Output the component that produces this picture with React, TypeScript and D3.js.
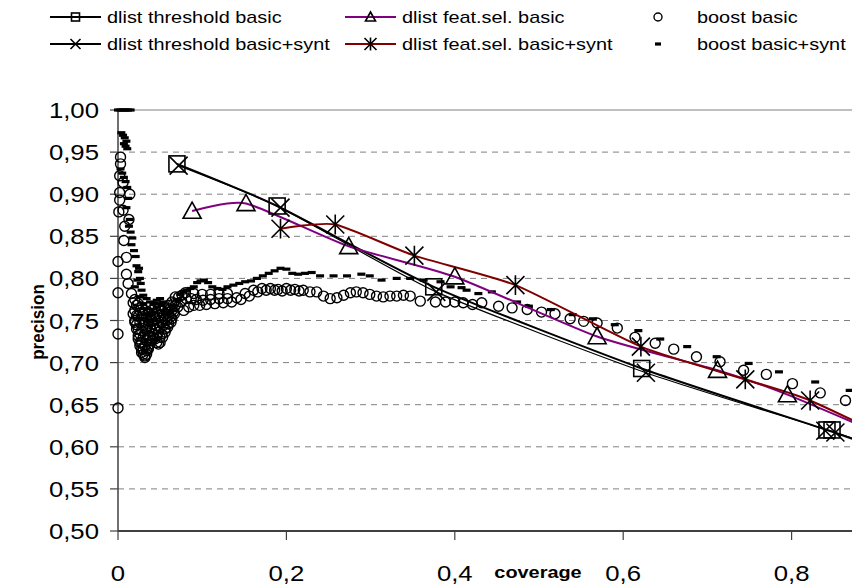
import * as d3 from "d3";
import React from "react";

type Pt = [number, number];

// dlist series (coverage, precision)
const thrBasic: Pt[] = [[0.070, 0.936], [0.189, 0.886], [0.375, 0.790], [0.622, 0.693], [0.842, 0.620], [0.95, 0.582]];
const thrSynt: Pt[] = [[0.072, 0.934], [0.193, 0.884], [0.378, 0.784], [0.627, 0.688], [0.852, 0.617], [0.95, 0.583]];
const featBasic: Pt[] = [[0.088, 0.880], [0.152, 0.889], [0.274, 0.838], [0.400, 0.802], [0.569, 0.731], [0.712, 0.691], [0.795, 0.662], [0.95, 0.596]];
const featSynt: Pt[] = [[0.193, 0.859], [0.258, 0.864], [0.352, 0.827], [0.472, 0.792], [0.621, 0.719], [0.745, 0.680], [0.822, 0.655], [0.95, 0.594]];
const thrBasicExtra: Pt[] = [[0.848, 0.620]];
const thrSyntExtra: Pt[] = [[0.840, 0.619]];

// boost basic (circles)
const boostBasic: Pt[] = [
  [0.000, 0.646], [0.000, 0.734], [0.000, 0.783], [0.000, 0.820], [0.001, 0.879], [0.002, 0.893],
  [0.002, 0.902], [0.002, 0.922], [0.003, 0.936], [0.003, 0.944], [0.006, 0.881], [0.006, 0.914],
  [0.007, 0.845], [0.008, 0.862], [0.010, 0.825], [0.010, 0.805], [0.012, 0.794], [0.013, 0.870],
  [0.014, 0.900], [0.016, 0.782], [0.018, 0.771], [0.018, 0.758], [0.020, 0.748], [0.022, 0.740],
  [0.024, 0.732], [0.026, 0.724], [0.028, 0.716], [0.030, 0.710], [0.032, 0.706], [0.034, 0.710],
  [0.036, 0.716], [0.038, 0.722], [0.040, 0.726], [0.042, 0.730], [0.044, 0.728], [0.046, 0.724],
  [0.048, 0.722], [0.050, 0.724], [0.053, 0.730], [0.056, 0.736], [0.059, 0.742], [0.063, 0.748],
  [0.067, 0.758], [0.071, 0.766], [0.075, 0.772], [0.078, 0.762], [0.081, 0.776], [0.084, 0.766],
  [0.087, 0.776], [0.090, 0.768], [0.093, 0.775], [0.097, 0.768], [0.101, 0.774], [0.105, 0.769],
  [0.110, 0.775], [0.115, 0.770], [0.120, 0.776], [0.125, 0.771], [0.130, 0.776], [0.135, 0.772],
  [0.141, 0.777], [0.146, 0.775], [0.151, 0.782], [0.156, 0.779], [0.161, 0.786], [0.166, 0.784],
  [0.171, 0.788], [0.176, 0.786], [0.181, 0.788], [0.186, 0.786], [0.190, 0.787], [0.195, 0.785],
  [0.200, 0.788], [0.205, 0.786], [0.210, 0.787], [0.215, 0.785], [0.220, 0.786], [0.228, 0.784],
  [0.236, 0.784], [0.244, 0.779], [0.252, 0.776], [0.260, 0.777], [0.268, 0.780], [0.276, 0.783],
  [0.283, 0.784], [0.291, 0.783], [0.299, 0.781], [0.307, 0.779], [0.315, 0.778], [0.323, 0.779],
  [0.331, 0.779], [0.339, 0.780], [0.347, 0.779], [0.359, 0.773], [0.377, 0.772], [0.389, 0.772],
  [0.400, 0.772], [0.410, 0.771], [0.421, 0.769], [0.432, 0.771], [0.452, 0.767], [0.468, 0.765],
  [0.486, 0.763], [0.503, 0.760], [0.519, 0.758], [0.537, 0.752], [0.553, 0.749], [0.569, 0.747],
  [0.593, 0.741], [0.614, 0.730], [0.638, 0.723], [0.660, 0.716], [0.687, 0.707], [0.715, 0.701],
  [0.743, 0.691], [0.770, 0.686], [0.801, 0.675], [0.834, 0.664], [0.864, 0.655], [0.895, 0.645],
];

// boost basic: the dense cluster in the dip near coverage 0.02-0.14
const boostBasicDip: Pt[] = [
  [0.020, 0.775], [0.020, 0.762], [0.020, 0.750],
  [0.022, 0.768], [0.022, 0.756], [0.022, 0.745],
  [0.024, 0.770], [0.024, 0.755], [0.024, 0.740], [0.024, 0.728],
  [0.026, 0.762], [0.026, 0.748], [0.026, 0.734], [0.026, 0.720],
  [0.028, 0.766], [0.028, 0.752], [0.028, 0.738], [0.028, 0.724], [0.028, 0.712],
  [0.030, 0.758], [0.030, 0.744], [0.030, 0.730], [0.030, 0.716],
  [0.032, 0.762], [0.032, 0.748], [0.032, 0.734], [0.032, 0.720], [0.032, 0.708],
  [0.034, 0.754], [0.034, 0.740], [0.034, 0.726], [0.034, 0.714],
  [0.036, 0.760], [0.036, 0.746], [0.036, 0.732], [0.036, 0.718],
  [0.038, 0.754], [0.038, 0.742], [0.038, 0.730],
  [0.040, 0.762], [0.040, 0.750], [0.040, 0.738],
  [0.042, 0.758], [0.042, 0.746], [0.042, 0.734],
  [0.044, 0.766], [0.044, 0.752], [0.044, 0.740],
  [0.046, 0.758], [0.046, 0.744], [0.046, 0.732],
  [0.048, 0.764], [0.048, 0.750], [0.048, 0.736],
  [0.050, 0.756], [0.050, 0.742], [0.050, 0.730],
  [0.052, 0.762], [0.052, 0.748], [0.052, 0.734],
  [0.054, 0.756], [0.054, 0.744],
  [0.056, 0.764], [0.056, 0.752], [0.056, 0.740],
  [0.058, 0.760], [0.058, 0.750],
  [0.060, 0.768], [0.060, 0.756], [0.060, 0.746],
  [0.062, 0.764], [0.062, 0.754],
  [0.064, 0.772], [0.064, 0.762], [0.064, 0.752],
  [0.066, 0.770], [0.066, 0.760],
  [0.068, 0.778], [0.068, 0.768],
  [0.072, 0.778], [0.076, 0.780],
  [0.080, 0.783], [0.090, 0.782], [0.100, 0.781], [0.110, 0.781], [0.120, 0.782], [0.130, 0.782],
];

// boost basic+synt (dashes)
const boostSynt: Pt[] = [
  [0.000, 1.000], [0.003, 1.000], [0.006, 1.000], [0.009, 1.000], [0.012, 1.000], [0.015, 1.000],
  [0.004, 0.973], [0.006, 0.970], [0.008, 0.967], [0.010, 0.963], [0.007, 0.960], [0.009, 0.957],
  [0.011, 0.954], [0.003, 0.930], [0.005, 0.925], [0.007, 0.920], [0.009, 0.915], [0.011, 0.908],
  [0.012, 0.895], [0.010, 0.884], [0.014, 0.870], [0.013, 0.862], [0.015, 0.855], [0.017, 0.848],
  [0.016, 0.840], [0.019, 0.833], [0.021, 0.826], [0.022, 0.815], [0.024, 0.808], [0.026, 0.800],
  [0.027, 0.794], [0.028, 0.786], [0.026, 0.778], [0.030, 0.770], [0.032, 0.764], [0.034, 0.757],
  [0.036, 0.750], [0.038, 0.745], [0.041, 0.750], [0.043, 0.760], [0.046, 0.766], [0.049, 0.770],
  [0.052, 0.768], [0.055, 0.762], [0.058, 0.758], [0.062, 0.762], [0.066, 0.768], [0.070, 0.775],
  [0.074, 0.781], [0.078, 0.784], [0.082, 0.786], [0.086, 0.788], [0.090, 0.790], [0.094, 0.795],
  [0.098, 0.797], [0.102, 0.798], [0.107, 0.795], [0.112, 0.790], [0.118, 0.788], [0.124, 0.787],
  [0.130, 0.790], [0.137, 0.792], [0.144, 0.794], [0.151, 0.796], [0.158, 0.797], [0.165, 0.800],
  [0.172, 0.803], [0.179, 0.806], [0.186, 0.809], [0.193, 0.812], [0.200, 0.811], [0.207, 0.806],
  [0.214, 0.805], [0.222, 0.806], [0.230, 0.807], [0.240, 0.803], [0.256, 0.803], [0.272, 0.803],
  [0.289, 0.805], [0.299, 0.803], [0.313, 0.798], [0.331, 0.800], [0.347, 0.800], [0.363, 0.798],
  [0.383, 0.796], [0.395, 0.790], [0.408, 0.789], [0.414, 0.786], [0.428, 0.782], [0.444, 0.784],
  [0.474, 0.772], [0.488, 0.767], [0.514, 0.763], [0.540, 0.757], [0.564, 0.752], [0.590, 0.745],
  [0.618, 0.738], [0.644, 0.728], [0.676, 0.719], [0.711, 0.707], [0.749, 0.699], [0.785, 0.689],
  [0.828, 0.677], [0.869, 0.667],
  [0.030, 0.780], [0.034, 0.776], [0.038, 0.772], [0.042, 0.770], [0.046, 0.774], [0.050, 0.776],
  [0.054, 0.772], [0.020, 0.790], [0.023, 0.798], [0.025, 0.812],
];

const xTicks = [0, 0.2, 0.4, 0.6, 0.8];
const yTicks = [0.5, 0.55, 0.6, 0.65, 0.7, 0.75, 0.8, 0.85, 0.9, 0.95, 1.0];

const W = 852;
const H = 588;
const FONT = "'Liberation Sans', Arial, sans-serif";
const SX = 1.17; // text in the picture is a bit wider than tall

const x = d3.scaleLinear().domain([0, 1]).range([118, 960]);
const y = d3.scaleLinear().domain([0.5, 1]).range([531, 110]);

const fmt = (v: number, digits: number) => v.toFixed(digits).replace(".", ",");

type Shape = "square" | "cross" | "triangle" | "asterisk" | "circle" | "dash";

const Marker = ({ shape, cx, cy, s }: { shape: Shape; cx: number; cy: number; s: number }) => {
  const h = s / 2;
  const st = { fill: "none", stroke: "#000", strokeWidth: 1.6 };
  switch (shape) {
    case "square":
      return <rect x={cx - h} y={cy - h} width={s} height={s} {...st} />;
    case "cross":
      return <path d={`M${cx - h},${cy - h}L${cx + h},${cy + h}M${cx - h},${cy + h}L${cx + h},${cy - h}`} {...st} />;
    case "triangle":
      return <path d={`M${cx},${cy - h}L${cx + h},${cy + h * 0.8}L${cx - h},${cy + h * 0.8}Z`} {...st} />;
    case "asterisk":
      return (
        <path
          d={`M${cx - h},${cy - h}L${cx + h},${cy + h}M${cx - h},${cy + h}L${cx + h},${cy - h}M${cx},${cy - h * 1.1}L${cx},${cy + h * 1.1}`}
          {...st}
        />
      );
    case "circle":
      return <circle cx={cx} cy={cy} r={h} {...st} strokeWidth={1.4} />;
    case "dash":
      return <rect x={cx - h} y={cy - 1.6} width={s} height={3.2} fill="#000" />;
  }
};

const Txt = ({ tx, ty, size, anchor = "start", bold = false, children }: any) => (
  <text
    transform={`translate(${tx},${ty}) scale(${SX},1)`}
    fontSize={size}
    textAnchor={anchor}
    fontWeight={bold ? "bold" : "normal"}
    fill="#000"
  >
    {children}
  </text>
);

const line = d3
  .line<Pt>()
  .x((d) => x(d[0]))
  .y((d) => y(d[1]))
  .curve(d3.curveCardinal.tension(0.4));

const series = [
  { data: thrBasic, extra: thrBasicExtra, color: "#000", width: 2, shape: "square" as Shape, size: 16 },
  { data: thrSynt, extra: thrSyntExtra, color: "#000", width: 1.2, shape: "cross" as Shape, size: 18 },
  { data: featBasic, extra: [] as Pt[], color: "#800080", width: 2, shape: "triangle" as Shape, size: 18 },
  { data: featSynt, extra: [] as Pt[], color: "#800000", width: 2, shape: "asterisk" as Shape, size: 18 },
];

const legend = [
  { label: "dlist threshold basic", shape: "square" as Shape, color: "#000", lx: 50, tx: 107, ly: 17, size: 8 },
  { label: "dlist feat.sel. basic", shape: "triangle" as Shape, color: "#800080", lx: 345, tx: 402, ly: 17, size: 10 },
  { label: "boost basic", shape: "circle" as Shape, color: null, lx: 650, tx: 697, ly: 17, size: 8 },
  { label: "dlist threshold basic+synt", shape: "cross" as Shape, color: "#000", lx: 50, tx: 107, ly: 44, size: 10 },
  { label: "dlist feat.sel. basic+synt", shape: "asterisk" as Shape, color: "#800000", lx: 345, tx: 402, ly: 44, size: 12 },
  { label: "boost basic+synt", shape: "dash" as Shape, color: null, lx: 650, tx: 697, ly: 44, size: 6 },
];

export default function App() {
  return (
    <svg width={W} height={H} style={{ position: "absolute", left: 0, top: 0, background: "#fff" }} fontFamily={FONT}>
      {/* legend */}
      {legend.map((l) => (
        <g key={l.label}>
          {l.color ? (
            <>
              <line x1={l.lx} x2={l.lx + 51} y1={l.ly} y2={l.ly} stroke={l.color} strokeWidth={2} />
              <Marker shape={l.shape} cx={l.lx + 25.5} cy={l.ly} s={l.size} />
            </>
          ) : (
            <Marker shape={l.shape} cx={l.lx + 8} cy={l.ly} s={l.size} />
          )}
          <Txt tx={l.tx} ty={l.ly + 6} size={17}>
            {l.label}
          </Txt>
        </g>
      ))}

      {/* gridlines */}
      {yTicks.slice(1, -1).map((t) => (
        <line key={t} x1={x(0)} x2={W} y1={y(t)} y2={y(t)} stroke="#808080" strokeWidth={1} strokeDasharray="6,5" />
      ))}
      <line x1={x(0)} x2={W} y1={y(1)} y2={y(1)} stroke="#808080" strokeWidth={1} />

      {/* axes */}
      <line x1={x(0)} x2={x(0)} y1={y(1)} y2={y(0.5)} stroke="#404040" strokeWidth={1.5} />
      <line x1={x(0)} x2={W} y1={y(0.5)} y2={y(0.5)} stroke="#404040" strokeWidth={1.8} />
      {yTicks.map((t) => (
        <g key={t}>
          <line x1={x(0) - 8} x2={x(0)} y1={y(t)} y2={y(t)} stroke="#404040" strokeWidth={1.2} />
          <Txt tx={99} ty={y(t) + 8} size={22} anchor="end">
            {fmt(t, 2)}
          </Txt>
        </g>
      ))}
      {xTicks.map((t) => (
        <g key={t}>
          <line x1={x(t)} x2={x(t)} y1={y(0.5)} y2={y(0.5) + 9} stroke="#404040" strokeWidth={1.2} />
          <Txt tx={x(t)} ty={581} size={22} anchor="middle">
            {t === 0 ? "0" : fmt(t, 1)}
          </Txt>
        </g>
      ))}
      <Txt tx={538} ty={578} size={17} anchor="middle" bold>
        coverage
      </Txt>
      <text transform="translate(44,322) rotate(-90) scale(1,1.1)" textAnchor="middle" fontSize={17} fontWeight="bold">
        precision
      </text>

      {/* boost series */}
      {[...boostBasic, ...boostBasicDip].map((d, i) => (
        <Marker key={"c" + i} shape="circle" cx={x(d[0])} cy={y(d[1])} s={10} />
      ))}
      {boostSynt.map((d, i) => (
        <Marker key={"d" + i} shape="dash" cx={x(d[0])} cy={y(d[1])} s={8} />
      ))}

      {/* dlist series */}
      {series.map((s, i) => (
        <path key={"l" + i} d={line(s.data) ?? ""} fill="none" stroke={s.color} strokeWidth={s.width} />
      ))}
      {series.map((s, i) =>
        [...s.data, ...s.extra].map((d, j) => (
          <Marker key={`m${i}-${j}`} shape={s.shape} cx={x(d[0])} cy={y(d[1])} s={s.size} />
        ))
      )}
    </svg>
  );
}
